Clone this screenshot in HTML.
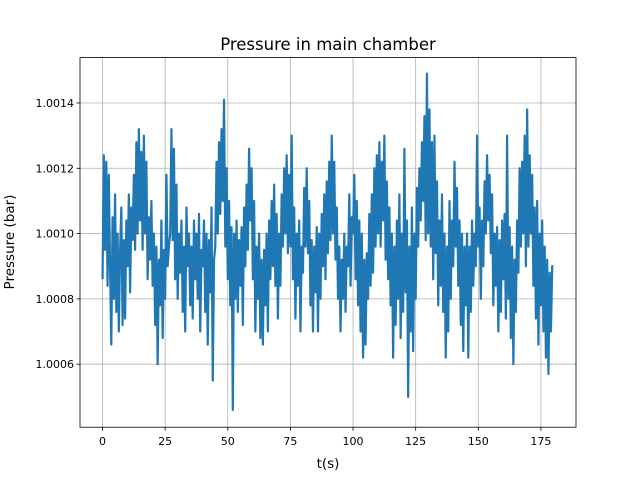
<!DOCTYPE html>
<html><head><meta charset="utf-8"><style>
body{margin:0;background:#fff;}
svg{display:block;font-family:"DejaVu Sans","Liberation Sans",sans-serif;}
</style></head><body>
<svg id="chart" width="640" height="480" viewBox="0 0 640 480" xmlns="http://www.w3.org/2000/svg">
<rect width="640" height="480" fill="#fff"/>
<g id="grid"></g>
<g id="series"></g>
<rect x="80" y="57.6" width="496" height="369.6" fill="none" stroke="#000" stroke-width="0.8"/>
<g id="xticks"></g>
<g id="yticks"></g>
<text x="328" y="50" text-anchor="middle" font-size="16.5">Pressure in main chamber</text>
<text x="328" y="468" text-anchor="middle" font-size="13.5">t(s)</text>
<text x="0" y="0" transform="translate(14,242) rotate(-90)" text-anchor="middle" font-size="13.5">Pressure (bar)</text>
</svg>
<script>
// time step 0.5 s, starting at t = 0
const timeStep = 0.5;
// pressure offset above 1 bar in units of 1e-5 bar
const pressureOffset = [
86,124,95,122,84,118,90,66,105,80,
112,76,100,70,95,108,72,98,74,104,
90,112,82,108,98,118,95,128,100,132,
104,125,95,130,100,122,86,105,92,110,
84,100,72,96,60,92,78,104,68,95,
80,118,90,96,100,132,98,126,86,115,
80,100,88,104,76,96,70,108,90,100,
78,96,74,104,86,100,80,106,70,95,
90,104,76,100,66,98,82,108,55,92,
96,122,100,128,106,132,110,141,96,120,
86,110,78,102,46,100,80,104,76,98,
84,102,72,108,90,115,95,126,104,120,
86,110,70,96,80,100,68,92,66,95,
78,100,70,104,86,110,90,115,84,106,
74,100,84,112,96,120,100,124,94,118,
96,130,86,108,74,100,84,104,70,96,
88,114,96,120,94,110,78,98,70,96,
82,102,70,100,80,106,90,112,86,116,
94,122,98,130,100,122,92,108,80,96,
70,92,80,100,76,96,90,112,84,105,
100,118,86,110,78,104,70,100,62,92,
66,94,80,106,84,112,88,120,96,124,
100,128,96,122,104,130,92,116,86,108,
78,100,62,96,72,104,80,112,68,100,
76,126,82,104,50,96,70,108,64,100,
80,114,96,120,104,128,110,136,98,149,
100,138,96,128,86,130,94,116,78,104,
84,112,76,100,62,96,70,110,80,104,
90,122,96,114,84,104,72,100,64,96,
78,100,62,96,76,104,84,100,90,130,
96,108,80,104,90,116,100,124,104,118,
94,112,78,100,84,102,70,98,76,104,
86,106,74,130,80,102,68,96,60,92,
76,104,88,120,96,122,100,130,90,138,
96,124,100,118,84,108,74,110,66,100,
78,104,70,96,62,92,57,88,70,90,
90
];
const xTicks = [0,25,50,75,100,125,150,175];
const yTicks = [1.0006,1.0008,1.0010,1.0012,1.0014];
const yTickLabels = ["1.0006","1.0008","1.0010","1.0012","1.0014"];

const L=80,R=576,T=57.6,B=427.2;
const xMin=-9,xMax=189,yMin=1.000407,yMax=1.001539;
const xs=v=>L+(v-xMin)/(xMax-xMin)*(R-L);
const ys=v=>B-(v-yMin)/(yMax-yMin)*(B-T);
const NS="http://www.w3.org/2000/svg";
function mk(tag,attrs,parent){const e=document.createElementNS(NS,tag);for(const k in attrs)e.setAttribute(k,attrs[k]);parent.appendChild(e);return e;}
const grid=document.getElementById('grid'),xg=document.getElementById('xticks'),yg=document.getElementById('yticks'),sg=document.getElementById('series');
xTicks.forEach(t=>{
  const x=xs(t);
  const gl=mk('line',{x1:x,x2:x,y1:T,y2:B,stroke:'#b0b0b0','stroke-width':0.8},grid);
  
  
  const tk=mk('line',{x1:x,x2:x,y1:B,y2:B+3.5,stroke:'#000','stroke-width':0.8},xg);
  
  
  const tx=mk('text',{x:x,y:B+18,'text-anchor':'middle','font-size':11},xg);
  
  
  tx.textContent=String(t);
});
yTicks.forEach((v,i)=>{
  const y=ys(v);
  const gl=mk('line',{x1:L,x2:R,y1:y,y2:y,stroke:'#b0b0b0','stroke-width':0.8},grid);
  
  
  const tk=mk('line',{x1:L-3.5,x2:L,y1:y,y2:y,stroke:'#000','stroke-width':0.8},yg);
  
  
  const tx=mk('text',{x:L-6,y:y+4,'text-anchor':'end','font-size':11},yg);
  
  
  tx.textContent=yTickLabels[i];
});
const pts=pressureOffset.map((v,i)=>xs(i*timeStep).toFixed(2)+','+ys(1+v*1e-5).toFixed(2)).join(' ');
const line=mk('polyline',{points:pts,fill:'none',stroke:'#1f77b4','stroke-width':2.2,'stroke-linejoin':'round'},sg);


</script>
</body></html>
